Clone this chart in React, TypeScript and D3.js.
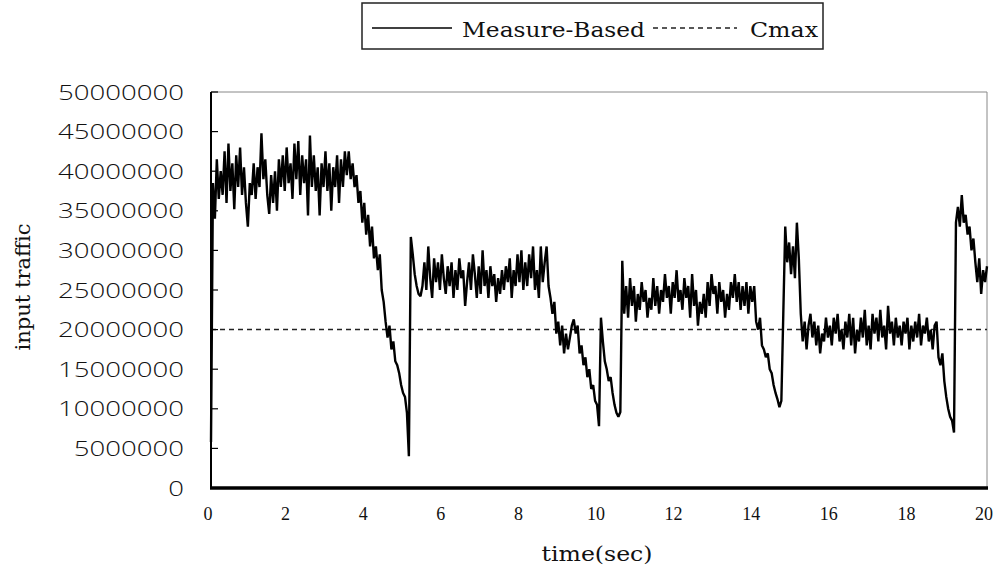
import React, { useEffect, useRef } from "react";
import * as d3 from "d3";

// time step between samples (seconds)
const timeStep = 0.05;

// input traffic (millions) sampled every 0.05 s, one row per second
const trafficMillions: number[] = [
  5.8, 38.5, 34.0, 41.5, 36.5, 40.0, 37.0, 42.5, 36.0, 43.5, 37.5, 41.0, 35.2, 42.0, 38.0, 43.0, 37.0, 40.5, 36.0, 33.0,
  38.5, 37.0, 41.0, 36.5, 40.5, 38.0, 44.8, 39.0, 41.5, 37.0, 34.6, 39.5, 36.0, 40.0, 35.0, 41.5, 38.0, 42.0, 37.5, 43.0,
  38.5, 41.0, 36.5, 43.5, 39.0, 43.8, 37.0, 42.0, 38.5, 41.5, 34.4, 44.5, 38.0, 42.0, 37.5, 40.5, 34.4, 41.0, 38.0, 42.5,
  37.5, 41.0, 35.0, 40.5, 38.0, 42.0, 36.0, 41.5, 38.0, 42.5, 39.5, 42.5, 39.0, 41.0, 38.0, 39.5, 36.0, 37.5, 33.5, 36.0,
  32.0, 34.5, 30.5, 33.0, 29.0, 30.5, 27.5, 29.5, 25.0, 23.5, 21.0, 19.0, 20.5, 17.5, 18.5, 16.0, 15.5, 14.5, 13.0, 12.0,
  11.5, 9.5, 4.0, 31.7, 29.5, 27.0, 25.5, 24.5, 24.2, 25.5, 28.5, 25.0, 30.5, 26.5, 24.0, 29.0, 26.0, 28.5, 25.0, 29.5,
  26.5, 24.5, 28.0, 25.5, 28.5, 24.0, 27.5, 25.0, 29.0, 26.5, 27.5, 23.0, 26.0, 28.5, 25.0, 29.5, 27.0, 24.0, 28.0, 24.5,
  30.0, 25.5, 27.5, 24.0, 28.0, 25.5, 27.0, 23.5, 26.5, 24.5, 27.5, 25.0, 28.0, 26.0, 29.0, 24.0, 27.5, 25.5, 29.5, 26.0,
  30.0, 25.0, 28.5, 25.5, 29.5, 26.5, 30.5, 25.0, 27.5, 24.0, 30.5, 26.0, 28.5, 30.5, 25.5, 24.0, 22.0, 23.5, 19.5, 21.0,
  18.0, 20.5, 17.0, 19.5, 17.5, 19.0, 20.5, 21.3, 19.5, 20.5, 17.0, 18.0, 15.5, 16.5, 14.0, 15.0, 12.5, 13.0, 11.0, 10.5,
  7.8, 21.5, 18.5, 16.0, 15.0, 13.5, 14.0, 12.0, 10.5, 9.5, 9.0, 9.6, 28.7, 22.0, 25.5, 21.5, 26.5, 23.0, 25.5, 21.0,
  24.5, 22.5, 26.0, 23.5, 25.0, 21.5, 24.0, 22.5, 26.5, 23.0, 25.5, 22.0, 25.0, 23.5, 27.0, 24.0, 25.5, 22.0, 26.0, 24.0,
  27.5, 23.5, 25.0, 22.5, 26.5, 24.0, 25.5, 21.5, 27.0, 23.0, 25.0, 20.5, 23.5, 22.0, 24.5, 21.5, 26.0, 23.0, 27.0, 24.5,
  25.5, 22.0, 26.0, 23.5, 25.0, 21.5, 24.5, 22.5, 26.0, 24.0, 27.0, 23.5, 26.0, 22.5, 25.5, 23.0, 26.0, 22.0, 25.5, 23.5,
  25.5, 21.0, 20.0, 21.5, 18.0, 17.5, 16.5, 17.0, 15.0, 14.5, 13.0, 12.0, 11.2, 10.2, 11.0, 22.0, 33.0, 28.5, 31.0, 27.0,
  30.5, 26.5, 33.5, 29.0, 22.0, 18.5, 21.0, 17.5, 20.5, 22.0, 19.0, 21.0, 18.0, 20.5, 17.0, 19.5, 18.5, 21.5, 19.0, 20.5,
  18.0, 21.5, 19.5, 22.0, 18.5, 20.0, 17.5, 21.0, 19.0, 22.0, 18.0, 21.5, 17.0, 20.0, 18.5, 21.5, 19.0, 22.5, 18.0, 20.5,
  17.5, 22.0, 19.5, 21.5, 18.5, 22.5, 19.0, 20.5, 17.5, 23.0, 19.5, 21.0, 18.0, 21.5, 19.0, 20.5, 18.0, 21.0, 19.5, 21.5,
  17.5, 20.5, 18.5, 21.0, 19.0, 22.0, 18.0, 20.5, 19.5, 21.5, 18.5, 20.0, 17.5, 20.5, 21.0, 16.5, 15.5, 17.0, 13.5, 11.5,
  10.0, 9.0, 8.5, 7.0, 33.5, 35.5, 33.0, 37.0, 33.5, 34.5, 32.0, 33.0, 30.0, 31.5, 28.5, 26.0, 29.0, 24.5, 27.5, 26.0,
  28.0,
];

const cmax = 20000000;
const yTicks = [0, 5000000, 10000000, 15000000, 20000000, 25000000, 30000000, 35000000, 40000000, 45000000, 50000000];
const xTicks = [0, 2, 4, 6, 8, 10, 12, 14, 16, 18, 20];
const seriesNames = ["Measure-Based", "Cmax"];
const yTitle = "input traffic";
const xTitle = "time(sec)";

export default function App() {
  const ref = useRef<SVGSVGElement | null>(null);

  useEffect(() => {
    const svg = d3.select(ref.current);
    svg.selectAll("*").remove();

    const left = 211, right = 987, top = 92, bottom = 488;
    const x = d3.scaleLinear().domain([0, 20]).range([left, right]);
    const y = d3.scaleLinear().domain([0, 50000000]).range([bottom, top]);

    const data = trafficMillions.map((v, i) => ({ t: i * timeStep, v: v * 1e6 }));

    // plot frame (top/right thin gray)
    svg.append("line").attr("x1", left).attr("x2", right).attr("y1", top).attr("y2", top)
      .attr("stroke", "#888").attr("stroke-width", 1);
    svg.append("line").attr("x1", right).attr("x2", right).attr("y1", top).attr("y2", bottom)
      .attr("stroke", "#888").attr("stroke-width", 1);

    // Cmax dashed line
    svg.append("line")
      .attr("x1", x(0)).attr("x2", x(20)).attr("y1", y(cmax)).attr("y2", y(cmax))
      .attr("stroke", "#222").attr("stroke-width", 1.5).attr("stroke-dasharray", "5,4");

    // data line
    const line = d3.line<{ t: number; v: number }>().x(d => x(d.t)).y(d => y(d.v));
    svg.append("path").datum(data).attr("d", line).attr("fill", "none")
      .attr("stroke", "#000").attr("stroke-width", 2.4).attr("stroke-linejoin", "miter")
      .attr("stroke-miterlimit", 2);

    // left axis
    svg.append("line").attr("x1", left).attr("x2", left).attr("y1", top).attr("y2", bottom)
      .attr("stroke", "#000").attr("stroke-width", 2);
    yTicks.forEach(v => {
      svg.append("line").attr("x1", left).attr("x2", left + 7).attr("y1", y(v)).attr("y2", y(v))
        .attr("stroke", "#000").attr("stroke-width", 1.2);
      const s = String(v);
      svg.append("text").attr("x", 184).attr("y", y(v)).attr("text-anchor", "end")
        .attr("dominant-baseline", "central")
        .attr("font-family", "'Open Sans', 'DejaVu Sans', sans-serif").attr("font-size", 20)
        .attr("font-weight", 300)
        .attr("textLength", s.length * 15.75).attr("lengthAdjust", "spacingAndGlyphs")
        .attr("fill", "#111").text(s);
    });

    // bottom axis (thick)
    svg.append("line").attr("x1", left - 1).attr("x2", right + 1).attr("y1", bottom).attr("y2", bottom)
      .attr("stroke", "#000").attr("stroke-width", 3.5);
    xTicks.forEach(t => {
      svg.append("text").attr("x", x(t) - 3).attr("y", 520).attr("text-anchor", "middle")
        .attr("font-family", "'Liberation Serif', 'Times New Roman', serif").attr("font-size", 18)
        .attr("fill", "#111").text(String(t));
    });

    // axis titles
    svg.append("text").attr("transform", "translate(30,287) rotate(-90)").attr("text-anchor", "middle")
      .attr("font-family", "'DejaVu Serif', serif").attr("font-size", 20)
      .attr("textLength", 127).attr("lengthAdjust", "spacingAndGlyphs").attr("fill", "#111").text(yTitle);
    svg.append("text").attr("x", 597).attr("y", 561).attr("text-anchor", "middle")
      .attr("font-family", "'DejaVu Serif', serif").attr("font-size", 21)
      .attr("textLength", 111).attr("lengthAdjust", "spacingAndGlyphs").attr("fill", "#111").text(xTitle);

    // legend
    svg.append("rect").attr("x", 362).attr("y", 3).attr("width", 461).attr("height", 46)
      .attr("fill", "#fff").attr("stroke", "#222").attr("stroke-width", 1.5);
    svg.append("line").attr("x1", 372).attr("x2", 452).attr("y1", 28).attr("y2", 28)
      .attr("stroke", "#000").attr("stroke-width", 1.5);
    svg.append("text").attr("x", 462).attr("y", 37)
      .attr("font-family", "'DejaVu Serif', serif").attr("font-size", 21)
      .attr("textLength", 183).attr("lengthAdjust", "spacingAndGlyphs").attr("fill", "#111").text(seriesNames[0]);
    svg.append("line").attr("x1", 653).attr("x2", 737).attr("y1", 28).attr("y2", 28)
      .attr("stroke", "#222").attr("stroke-width", 1.5).attr("stroke-dasharray", "5,4");
    svg.append("text").attr("x", 750).attr("y", 37)
      .attr("font-family", "'DejaVu Serif', serif").attr("font-size", 21)
      .attr("textLength", 68).attr("lengthAdjust", "spacingAndGlyphs").attr("fill", "#111").text(seriesNames[1]);
  }, []);

  return (
    <svg ref={ref} width={1000} height={573}
      style={{ position: "absolute", left: 0, top: 0, background: "#fff" }} />
  );
}
